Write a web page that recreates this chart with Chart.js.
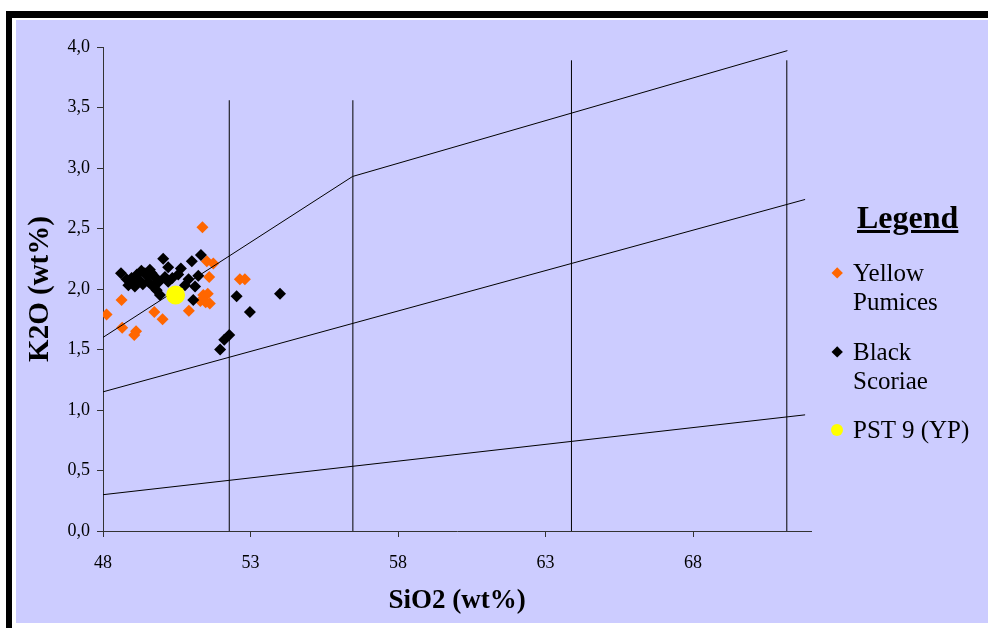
<!DOCTYPE html>
<html>
<head>
<meta charset="utf-8">
<script src="https://cdn.jsdelivr.net/npm/chart.js@4.4.1/dist/chart.umd.min.js"></script>
<style>
  html, body { margin: 0; padding: 0; background: #fff; }
  body { width: 988px; height: 628px; position: relative; overflow: hidden;
         font-family: "Liberation Serif", "Times New Roman", serif; }
  #frame { position: absolute; left: 6px; top: 11px; right: -10px; bottom: -10px;
           border-left: 6px solid #000; border-top: 7px solid #000; }
  #panel { position: absolute; left: 16px; top: 20px; width: 972px; height: 603px; background: #ccccff; }
  #chart { position: absolute; left: 0; top: 0; }
  .lg-title { position: absolute; left: 857px; top: 201px; font-size: 32px; line-height: 32px;
              font-weight: bold; text-decoration: underline; text-decoration-thickness: 3px; }
  .lg-text { position: absolute; left: 853px; font-size: 25px; line-height: 29px; white-space: nowrap; }
  .lg-mark { position: absolute; }
</style>
</head>
<body>
<div id="frame"></div>
<div id="panel"></div>
<canvas id="chart" width="988" height="628"></canvas>
<div class="lg-title">Legend</div>
<div id="legend"></div>
<script>
// SiO2 / K2O (wt%)
const yellowSiO2 = [48.12, 48.63, 48.65, 49.12, 49.06, 49.74, 50.02, 50.91, 51.37, 51.52, 51.74, 51.60,
                    52.64, 52.81, 51.40, 51.55, 51.62, 51.30, 51.48];
const yellowK2O  = [1.79, 1.91, 1.68, 1.65, 1.62, 1.81, 1.75, 1.82, 2.51, 2.23, 2.21, 2.10,
                    2.08, 2.08, 1.95, 1.96, 1.88, 1.90, 1.89];

const blackSiO2 = [48.61, 48.86, 48.97, 49.08, 49.25, 49.42, 49.59, 49.54, 49.76, 49.82, 49.93, 50.04,
                   50.21, 50.21, 50.64, 50.78, 51.01, 51.06, 51.32, 51.23, 51.12, 50.90,
                   48.80, 49.00, 49.15, 49.35, 49.50, 49.65, 49.90, 50.10, 50.35, 50.55, 49.30, 49.70,
                   52.53, 54.00, 52.98, 52.28, 52.11, 51.97];
const blackK2O  = [2.13, 2.03, 2.09, 2.02, 2.07, 2.13, 2.16, 2.06, 2.10, 1.99, 1.95, 2.25,
                   2.18, 2.06, 2.17, 2.03, 2.23, 1.91, 2.28, 2.11, 2.02, 2.08,
                   2.08, 2.05, 2.12, 2.04, 2.11, 2.13, 2.06, 2.10, 2.09, 2.12, 2.15, 2.02,
                   1.94, 1.96, 1.81, 1.62, 1.58, 1.50];

const pstSiO2 = [50.46];
const pstK2O  = [1.95];

// field boundaries
const lowLineX  = [48, 71.8];
const lowLineY  = [0.30, 0.96];
const midLineX  = [48, 71.8];
const midLineY  = [1.15, 2.74];
const highLineX = [48, 56.46, 71.2];
const highLineY = [1.60, 2.93, 3.97];
const dividerX   = [52.28, 56.47, 63.88, 71.18];
const dividerTop = [3.56, 3.56, 3.89, 3.89];

const xTicks = [48, 53, 58, 63, 68];

const seriesNames = [["Yellow", "Pumices"], ["Black", "Scoriae"], ["PST 9 (YP)"]];

const serif = '"Liberation Serif", "Times New Roman", serif';
Chart.defaults.font.family = serif;

function pts(xs, ys) {
    return xs.map((x, i) => ({ x: x, y: ys[i] }));
}

function lineSet(data) {
    return {
        type: "scatter", data: data, showLine: true, fill: false,
        borderColor: "#000", borderWidth: 1, pointRadius: 0, order: 1
    };
}

const datasets = [
    {
        label: seriesNames[2].join(" "), data: pts(pstSiO2, pstK2O),
        backgroundColor: "#ffff00", borderWidth: 0, pointStyle: "circle", pointRadius: 9.5, order: 0
    },
    lineSet(pts(lowLineX, lowLineY)),
    lineSet(pts(midLineX, midLineY)),
    lineSet(pts(highLineX, highLineY)),
    ...dividerX.map((x, i) => lineSet(pts([x, x], [0, dividerTop[i]]))),
    {
        label: seriesNames[1].join(" "), data: pts(blackSiO2, blackK2O),
        backgroundColor: "#000000", borderWidth: 0, pointStyle: "rectRot", pointRadius: 6, order: 2
    },
    {
        label: seriesNames[0].join(" "), data: pts(yellowSiO2, yellowK2O),
        backgroundColor: "#ff6600", borderWidth: 0, pointStyle: "rectRot", pointRadius: 6, order: 3
    }
];

const axisColor = "#333";

new Chart(document.getElementById("chart").getContext("2d"), {
    type: "scatter",
    data: { datasets: datasets },
    options: {
        responsive: false,
        animation: false,
        layout: { padding: { left: 16, top: 47, right: 177, bottom: 0 } },
        plugins: { legend: { display: false }, tooltip: { enabled: false } },
        scales: {
            x: {
                type: "linear", min: 48, max: 72,
                afterBuildTicks: (s) => { s.ticks = xTicks.map((v) => ({ value: v })); },
                afterFit: (s) => { s.height = 97; },
                grid: { drawOnChartArea: false, drawTicks: true, tickLength: 6, color: axisColor },
                border: { display: true, color: axisColor, width: 1 },
                ticks: { color: "#000", font: { size: 18 }, padding: 15, maxRotation: 0 },
                title: {
                    display: true, text: "SiO2 (wt%)", color: "#000",
                    font: { size: 27, weight: "bold" }, padding: { top: 0, bottom: 11 }
                }
            },
            y: {
                type: "linear", min: 0, max: 4,
                afterFit: (s) => { s.width = 87; },
                grid: { drawOnChartArea: false, drawTicks: true, tickLength: 6, color: axisColor },
                border: { display: true, color: axisColor, width: 1 },
                ticks: {
                    stepSize: 0.5, color: "#000", font: { size: 18 }, padding: 7,
                    callback: (v) => v.toFixed(1).replace(".", ",")
                },
                title: {
                    display: true, text: "K2O (wt%)", color: "#000",
                    font: { size: 29, weight: "bold" }, padding: { top: 7, bottom: 0 }
                }
            }
        }
    }
});

// legend beside the plot
const legendRows = [
    { top: 258, mark: "diamond", color: "#ff6600", lines: seriesNames[0] },
    { top: 337, mark: "diamond", color: "#000000", lines: seriesNames[1] },
    { top: 415, mark: "circle", color: "#ffff00", lines: seriesNames[2] }
];
const legend = document.getElementById("legend");
legendRows.forEach((row) => {
    const text = document.createElement("div");
    text.className = "lg-text";
    text.style.top = row.top + "px";
    text.innerHTML = row.lines.join("<br>");
    legend.appendChild(text);

    const mark = document.createElement("div");
    mark.className = "lg-mark";
    const cy = row.top + 15;
    if (row.mark === "diamond") {
        mark.style.cssText = "left:" + (837 - 4.2) + "px;top:" + (cy - 4.2) + "px;width:8.4px;height:8.4px;" +
            "transform:rotate(45deg);background:" + row.color;
    } else {
        mark.style.cssText = "left:" + (837 - 6) + "px;top:" + (cy - 6) + "px;width:12px;height:12px;" +
            "border-radius:50%;background:" + row.color;
    }
    legend.appendChild(mark);
});
</script>
</body>
</html>
